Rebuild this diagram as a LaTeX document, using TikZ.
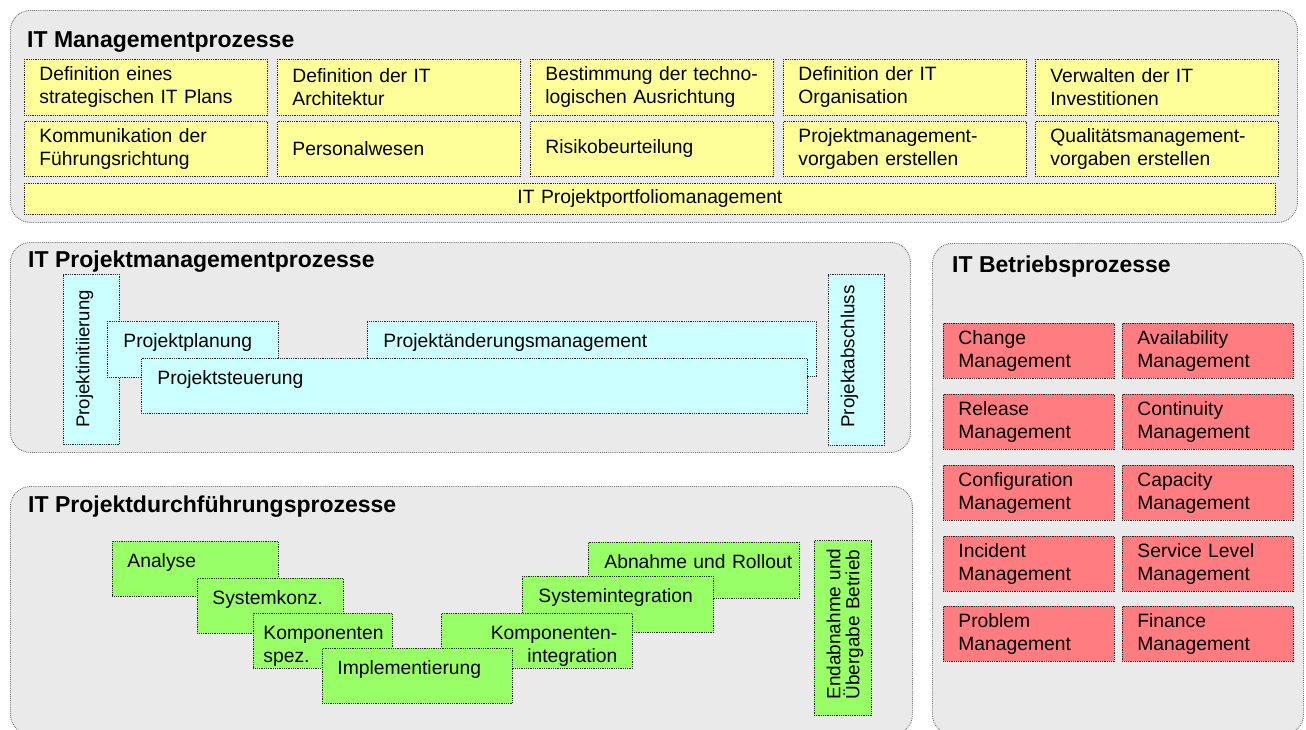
\documentclass[tikz,border=0pt]{standalone}
\usepackage{fontspec}
\setmainfont{Liberation Sans}
\hyphenpenalty=10000
\exhyphenpenalty=10000
\hbadness=10000
\hfuzz=50pt
\definecolor{panelgray}{HTML}{EAEAEA}
\definecolor{boxyellow}{HTML}{FFFF99}
\definecolor{boxcyan}{HTML}{CCFFFF}
\definecolor{boxgreen}{HTML}{99FF66}
\definecolor{boxred}{HTML}{FF7C80}
\begin{document}
\begin{tikzpicture}[x=1pt,y=-1pt,
  font=\fontsize{19.3}{23}\selectfont,
  panel/.style={draw=black!55, densely dotted, line width=0.9pt, fill=panelgray,
    rounded corners=20pt, anchor=north west, inner sep=0pt},
  ptitle/.style={anchor=base west, inner sep=0pt, font=\fontsize{23}{27}\selectfont\bfseries},
  box/.style={draw=black!85, densely dotted, line width=0.8pt, anchor=north west,
    inner ysep=0pt, align=left},
  ybox/.style={box, fill=boxyellow, inner xsep=15pt, minimum width=243pt, text width=213pt},
  rbox/.style={box, fill=boxred, inner xsep=15pt, minimum width=171pt, minimum height=55pt, text width=141pt},
  topbox/.style={text height=26pt, text depth=#1pt-26pt, minimum height=#1pt},
  cbox/.style={box, fill=boxcyan},
  gbox/.style={box, fill=boxgreen}
]
\useasboundingbox (0,0) rectangle (1306,729);

% ---------- panels ----------
\node[panel, minimum width=1287pt, minimum height=212pt] (pm) at (10,10) {};
\node[panel, minimum width=900pt, minimum height=210pt] (ppm) at (10,242) {};
\node[panel, minimum width=902pt, minimum height=248pt] (pdf) at (10,486) {};
\node[panel, minimum width=371pt, minimum height=491pt] (pbt) at (932,243) {};

\node[ptitle] (tpm) at (27,47) {IT Managementprozesse};
\node[ptitle] (tppm) at (28,267) {IT Projektmanagementprozesse};
\node[ptitle] (tpdf) at (28,512) {IT Projektdurchführungsprozesse};
\node[ptitle] (tpbt) at (952,272) {IT Betriebsprozesse};

% ---------- IT Managementprozesse ----------
\node[ybox, minimum height=56pt] (m11) at (24,59) {Definition~eines\\strategischen~IT~Plans};
\node[ybox, minimum height=56pt] (m12) at (277,59) {Definition~der~IT\\Architektur};
\node[ybox, minimum height=56pt] (m13) at (530,59) {Bestimmung~der~techno-\\logischen~Ausrichtung};
\node[ybox, minimum height=56pt] (m14) at (783,59) {Definition~der~IT\\Organisation};
\node[ybox, minimum height=56pt] (m15) at (1035,59) {Verwalten~der~IT\\Investitionen};
\node[ybox, minimum height=55pt] (m21) at (24,121) {Kommunikation~der\\Führungsrichtung};
\node[ybox, minimum height=55pt] (m22) at (277,121) {Personalwesen};
\node[ybox, minimum height=55pt] (m23) at (530,121) {Risikobeurteilung};
\node[ybox, minimum height=55pt] (m24) at (783,121) {Projektmanagement-\\vorgaben~erstellen};
\node[ybox, minimum height=55pt] (m25) at (1035,121) {Qualitätsmanagement-\\vorgaben~erstellen};
\node[box, fill=boxyellow, inner xsep=15pt, minimum width=1251pt, minimum height=31pt,
  text width=1221pt, align=center] (m3) at (24,183) {IT Projektportfoliomanagement};

% ---------- IT Projektmanagementprozesse ----------
\node[cbox, rotate=90, inner xsep=17pt, minimum width=170pt, text width=136pt, topbox=56,
  font=\fontsize{18.6}{22}\selectfont] (pinit) at (63,445) {Projektinitiierung};
\node[cbox, inner xsep=16pt, minimum width=171pt, text width=139pt, topbox=56] (pplan) at (107,321) {Projektplanung};
\node[cbox, inner xsep=16pt, minimum width=449pt, text width=417pt, topbox=55] (paend) at (367,321) {Projektänderungsmanagement};
\node[cbox, inner xsep=16pt, minimum width=666pt, text width=634pt, topbox=55] (pst) at (141,358) {Projektsteuerung};
\node[cbox, rotate=90, inner xsep=18pt, minimum width=171pt, text width=135pt, topbox=56,
  font=\fontsize{18.8}{22}\selectfont] (pabs) at (828,446) {Projektabschluss};

% ---------- IT Projektdurchführungsprozesse ----------
\node[gbox, inner xsep=15pt, minimum width=166pt, text width=136pt, topbox=55] (dana) at (112,541) {Analyse};
\node[gbox, inner xsep=15pt, minimum width=146pt, text width=116pt, topbox=55] (dsys) at (197,578) {Systemkonz.};
\node[gbox, inner xsep=10pt, minimum width=139pt, text width=119pt, topbox=55] (dkspez) at (253,613) {Komponenten\\spez.};
\node[gbox, inner xsep=10pt, minimum width=211pt, text width=191pt, topbox=56] (dabn) at (588,542) {\hspace*{6pt}Abnahme~und~Rollout};
\node[gbox, inner xsep=16pt, minimum width=191pt, text width=159pt, topbox=56] (dsint) at (522,576) {Systemintegration};
\node[gbox, inner xsep=15pt, minimum width=191pt, text width=161pt, topbox=55, align=right] (dkint) at (441,613) {Komponenten-\\integration};
\node[gbox, inner xsep=15pt, minimum width=190pt, text width=160pt, topbox=55] (dimpl) at (322,648) {Implementierung};
\node[gbox, rotate=90, inner xsep=10pt, minimum width=175pt, text width=155pt, topbox=57,
  font=\fontsize{19}{19}\selectfont] (dend) at (814,716) {\hspace*{6pt}Endabnahme~und\\\hspace*{6pt}Übergabe~Betrieb};

% ---------- IT Betriebsprozesse ----------
\node[rbox] (b11) at (943,323) {Change\\Management};
\node[rbox] (b12) at (1122,323) {Availability\\Management};
\node[rbox] (b21) at (943,394) {Release\\Management};
\node[rbox] (b22) at (1122,394) {Continuity\\Management};
\node[rbox] (b31) at (943,465) {Configuration\\Management};
\node[rbox] (b32) at (1122,465) {Capacity\\Management};
\node[rbox] (b41) at (943,536) {Incident\\Management};
\node[rbox] (b42) at (1122,536) {Service~Level\\Management};
\node[rbox] (b51) at (943,606) {Problem\\Management};
\node[rbox] (b52) at (1122,606) {Finance\\Management};
\end{tikzpicture}
\end{document}
